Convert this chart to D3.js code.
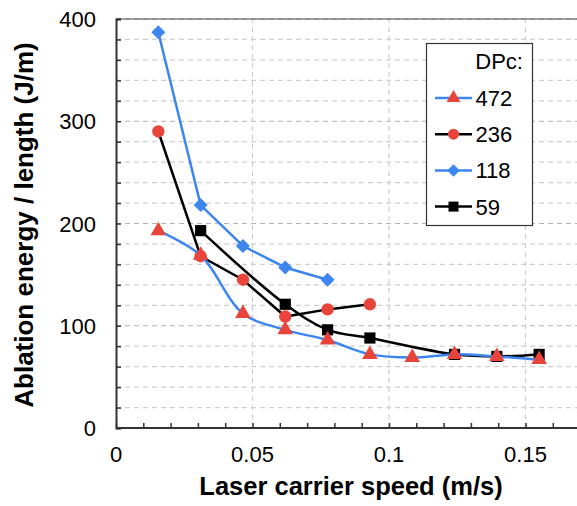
<!DOCTYPE html>
<html>
<head>
<meta charset="utf-8">
<script src="https://cdn.jsdelivr.net/npm/d3@7"></script>
<style>
  body { margin: 0; background: #fff; }
  text { font-family: "Liberation Sans", Arial, sans-serif; }
</style>
</head>
<body>
<div id="chart"></div>
<script>
// speeds (m/s) shared by the series
var speeds = [0.0155, 0.031, 0.0465, 0.062, 0.0775, 0.093, 0.1085, 0.124, 0.1395, 0.155];

var dpc472 = [193, 169, 112, 96, 86, 72, 69, 72, 70, 67];
var dpc236 = [290, 168, 145, 109, 116, 121];
var dpc118 = [387, 218, 178, 157, 145];
var dpc59  = [null, 193, null, 121, 96, 88, null, 72, 70, 72];

var xTicks = [0, 0.05, 0.1, 0.15];
var yTicks = [0, 100, 200, 300, 400];

var W = 577, H = 506;
var margin = {top: 19, right: 0, bottom: 78, left: 116};

var svg = d3.select("#chart").append("svg")
  .attr("width", W).attr("height", H);

var x = d3.scaleLinear().domain([0, 0.17]).range([margin.left, margin.left + 0.17 * 2730]);
var y = d3.scaleLinear().domain([0, 400]).range([428, 19]);

var blue = "#3d86f0", red = "#e8443a";

// grid
svg.append("g").selectAll("line")
  .data(d3.range(20, 401, 20))
  .join("line")
    .attr("x1", x(0)).attr("x2", W)
    .attr("y1", d => y(d)).attr("y2", d => y(d))
    .attr("stroke", d => d % 100 == 0 ? "#b4b4b4" : "#cfcfcf")
    .attr("stroke-width", 1.2)
    .attr("stroke-dasharray", "5,4");

svg.append("g").selectAll("line")
  .data([0.05, 0.1, 0.15])
  .join("line")
    .attr("x1", d => x(d)).attr("x2", d => x(d))
    .attr("y1", y(0)).attr("y2", y(400))
    .attr("stroke", "#cfcfcf")
    .attr("stroke-width", 1.2)
    .attr("stroke-dasharray", "5,4");

// top border
svg.append("line")
  .attr("x1", x(0)).attr("x2", W).attr("y1", y(400)).attr("y2", y(400))
  .attr("stroke", "#444").attr("stroke-width", 1.2);

// axes
var xAxis = d3.axisBottom(x).tickValues(d3.range(0, 0.171, 0.01)).tickSize(-5).tickFormat("");
var gx = svg.append("g").attr("transform", "translate(0," + y(0) + ")").call(xAxis);
var yAxis = d3.axisLeft(y).tickValues(d3.range(0, 401, 20)).tickSize(-5).tickFormat("");
var gy = svg.append("g").attr("transform", "translate(" + x(0) + ",0)").call(yAxis);
[gx, gy].forEach(function(g) {
  g.select(".domain").attr("stroke", "#333").attr("stroke-width", 2);
  g.selectAll(".tick line").attr("stroke", "#333").attr("stroke-width", 1.5);
});
gx.select(".domain").attr("d", "M" + x(0) + ",0H" + W);

svg.append("g").selectAll("text")
  .data(xTicks)
  .join("text")
    .attr("x", d => x(d)).attr("y", 462)
    .attr("text-anchor", "middle")
    .attr("font-size", 22)
    .text(d => d);

svg.append("g").selectAll("text")
  .data(yTicks)
  .join("text")
    .attr("x", 96).attr("y", d => y(d) + 8)
    .attr("text-anchor", "end")
    .attr("font-size", 22)
    .text(d => d);

svg.append("text")
  .attr("x", 351).attr("y", 495)
  .attr("text-anchor", "middle")
  .attr("font-size", 25.5).attr("font-weight", "bold")
  .text("Laser carrier speed (m/s)");

svg.append("text")
  .attr("transform", "translate(33,225) rotate(-90)")
  .attr("text-anchor", "middle")
  .attr("font-size", 26).attr("font-weight", "bold")
  .text("Ablation energy / length (J/m)");

// series
var series = [
  {name: "472", vals: dpc472, line: blue, mark: red, sym: d3.symbolTriangle, size: 105, curve: d3.curveCatmullRom},
  {name: "236", vals: dpc236, line: "#000", mark: red, sym: d3.symbolCircle, size: 120, curve: d3.curveLinear},
  {name: "118", vals: dpc118, line: blue, mark: blue, sym: d3.symbolDiamond2, size: 125, curve: d3.curveLinear},
  {name: "59", vals: dpc59, line: "#000", mark: "#000", sym: d3.symbolSquare, size: 125, curve: d3.curveCatmullRom}
];

series.forEach(function(s) {
  var pts = [];
  s.vals.forEach(function(v, i) { if (v != null) pts.push([speeds[i], v]); });
  s.pts = pts;
});

// draw in reverse so 472 ends on top
series.slice().reverse().forEach(function(s) {
  svg.append("path")
    .datum(s.pts)
    .attr("fill", "none")
    .attr("stroke", s.line)
    .attr("stroke-width", 2.5)
    .attr("d", d3.line().x(d => x(d[0])).y(d => y(d[1])).curve(s.curve));
  svg.append("g").selectAll("path")
    .data(s.pts)
    .join("path")
      .attr("transform", d => "translate(" + x(d[0]) + "," + y(d[1]) + ")")
      .attr("d", d3.symbol().type(s.sym).size(s.size))
      .attr("fill", s.mark);
});

// legend
var lg = svg.append("g");
lg.append("rect")
  .attr("x", 426.5).attr("y", 43.5).attr("width", 106).attr("height", 182)
  .attr("fill", "#fff").attr("stroke", "#333").attr("stroke-width", 1.2);
lg.append("text")
  .attr("x", 523).attr("y", 69).attr("text-anchor", "end")
  .attr("font-size", 22).text("DPc:");
series.forEach(function(s, i) {
  var cy = 98 + i * 36.2;
  lg.append("line")
    .attr("x1", 435).attr("x2", 472).attr("y1", cy).attr("y2", cy)
    .attr("stroke", s.line).attr("stroke-width", 2.5);
  lg.append("path")
    .attr("transform", "translate(453.5," + cy + ")")
    .attr("d", d3.symbol().type(s.sym).size(s.size * 0.8))
    .attr("fill", s.mark);
  lg.append("text")
    .attr("x", 475.5).attr("y", cy + 8)
    .attr("font-size", 22).text(s.name);
});
</script>
</body>
</html>
